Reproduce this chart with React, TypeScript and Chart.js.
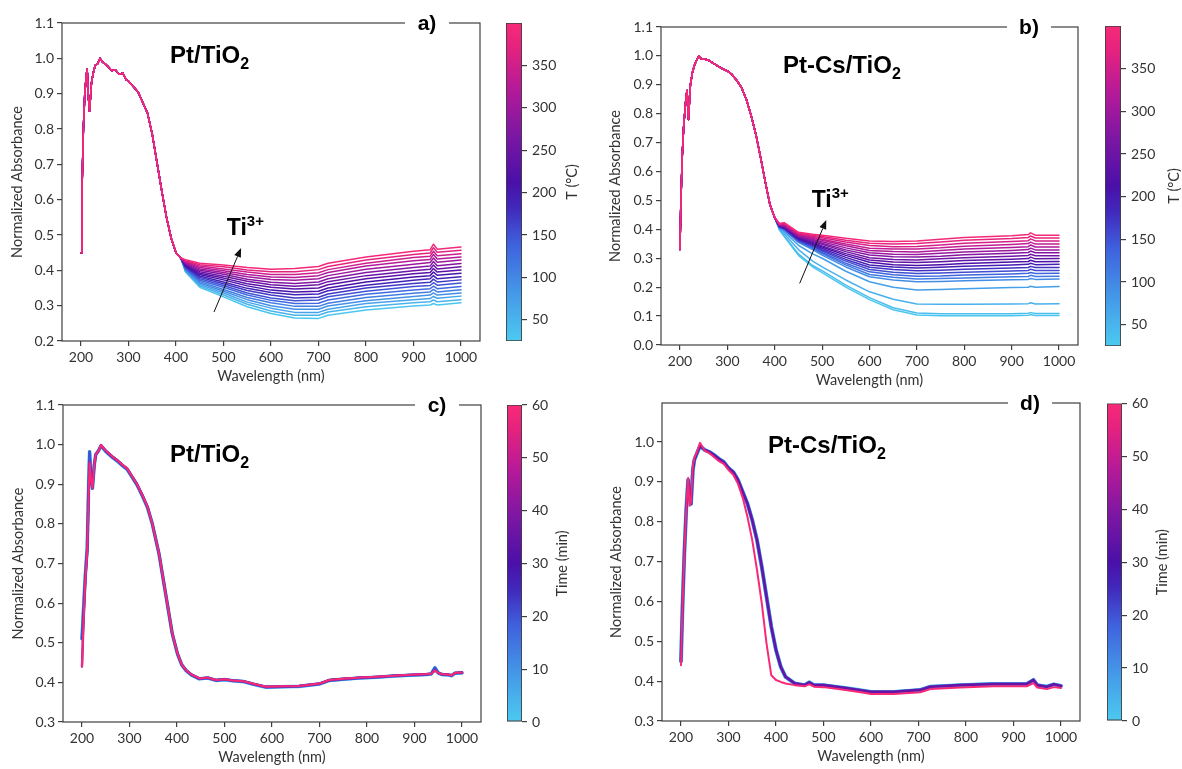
import React, { useEffect, useRef } from 'react';
import { Chart, registerables } from 'chart.js';

Chart.register(...registerables);

// ---------------- data ----------------
const wavelengthTicks = [200, 300, 400, 500, 600, 700, 800, 900, 1000];
const absTicksA = [0.2, 0.3, 0.4, 0.5, 0.6, 0.7, 0.8, 0.9, 1.0, 1.1];
const absTicksB = [0.0, 0.1, 0.2, 0.3, 0.4, 0.5, 0.6, 0.7, 0.8, 0.9, 1.0, 1.1];
const absTicksC = [0.3, 0.4, 0.5, 0.6, 0.7, 0.8, 0.9, 1.0, 1.1];
const absTicksD = [0.3, 0.4, 0.5, 0.6, 0.7, 0.8, 0.9, 1.0];
const tempTicks = [50, 100, 150, 200, 250, 300, 350];
const timeTicks = [0, 10, 20, 30, 40, 50, 60];

// Panel a) Pt/TiO2 vs temperature: shared UV edge + per-curve visible tail
const headWlA = [200, 202, 205, 208, 211, 213, 215, 218, 222, 226, 230, 235, 240, 245, 250, 258, 265, 272, 280, 288, 295, 300, 310, 320, 330, 340, 350, 360, 370, 380, 390, 400, 410];
const headAbsA = [0.45, 0.62, 0.80, 0.90, 0.95, 0.97, 0.90, 0.85, 0.93, 0.96, 0.98, 0.985, 1.0, 0.99, 0.985, 0.975, 0.965, 0.968, 0.955, 0.958, 0.94, 0.935, 0.92, 0.905, 0.875, 0.845, 0.785, 0.705, 0.625, 0.55, 0.49, 0.45, 0.435];
const tailWlA = [420, 450, 500, 550, 600, 650, 700, 720, 800, 900, 935, 942, 950, 1000];
const tempsA = [30, 50, 70, 90, 110, 130, 150, 170, 190, 210, 230, 250, 275, 300, 320, 345, 370, 395];
const tailsA = [
  [0.395, 0.352, 0.325, 0.297, 0.278, 0.265, 0.264, 0.273, 0.288, 0.299, 0.302, 0.306, 0.302, 0.308],
  [0.397, 0.356, 0.330, 0.304, 0.285, 0.273, 0.273, 0.282, 0.297, 0.308, 0.311, 0.316, 0.311, 0.317],
  [0.399, 0.360, 0.336, 0.310, 0.293, 0.281, 0.281, 0.290, 0.306, 0.317, 0.320, 0.326, 0.321, 0.327],
  [0.401, 0.364, 0.341, 0.317, 0.300, 0.290, 0.290, 0.299, 0.314, 0.326, 0.330, 0.336, 0.330, 0.336],
  [0.403, 0.368, 0.346, 0.323, 0.308, 0.298, 0.298, 0.307, 0.323, 0.335, 0.339, 0.346, 0.339, 0.345],
  [0.405, 0.372, 0.352, 0.330, 0.315, 0.306, 0.307, 0.316, 0.332, 0.344, 0.348, 0.355, 0.348, 0.354],
  [0.407, 0.376, 0.357, 0.336, 0.322, 0.314, 0.316, 0.325, 0.341, 0.354, 0.357, 0.365, 0.358, 0.364],
  [0.409, 0.380, 0.362, 0.343, 0.330, 0.322, 0.324, 0.333, 0.350, 0.363, 0.366, 0.375, 0.367, 0.373],
  [0.411, 0.384, 0.367, 0.349, 0.337, 0.331, 0.333, 0.342, 0.358, 0.372, 0.376, 0.385, 0.376, 0.382],
  [0.413, 0.388, 0.373, 0.356, 0.344, 0.339, 0.341, 0.350, 0.367, 0.381, 0.385, 0.395, 0.386, 0.392],
  [0.415, 0.392, 0.378, 0.362, 0.352, 0.347, 0.350, 0.359, 0.376, 0.390, 0.394, 0.405, 0.395, 0.401],
  [0.417, 0.396, 0.383, 0.369, 0.359, 0.355, 0.359, 0.368, 0.385, 0.399, 0.403, 0.415, 0.404, 0.410],
  [0.419, 0.400, 0.389, 0.375, 0.366, 0.363, 0.367, 0.376, 0.394, 0.408, 0.412, 0.425, 0.413, 0.419],
  [0.421, 0.404, 0.394, 0.382, 0.374, 0.372, 0.376, 0.385, 0.403, 0.417, 0.422, 0.435, 0.423, 0.429],
  [0.423, 0.408, 0.399, 0.388, 0.381, 0.380, 0.385, 0.394, 0.412, 0.427, 0.431, 0.445, 0.432, 0.438],
  [0.425, 0.412, 0.404, 0.395, 0.388, 0.388, 0.393, 0.402, 0.420, 0.436, 0.440, 0.454, 0.441, 0.447],
  [0.427, 0.416, 0.410, 0.401, 0.396, 0.396, 0.402, 0.411, 0.429, 0.445, 0.449, 0.464, 0.451, 0.457],
  [0.430, 0.420, 0.415, 0.408, 0.403, 0.405, 0.411, 0.420, 0.438, 0.454, 0.458, 0.474, 0.460, 0.466],
];

// Panel b) Pt-Cs/TiO2 vs temperature
const headWlB = [200, 202, 205, 208, 211, 213, 215, 218, 222, 226, 230, 235, 240, 245, 250, 260, 270, 280, 290, 300, 310, 320, 330, 340, 350, 360, 370, 380, 390, 400];
const headAbsB = [0.33, 0.50, 0.66, 0.76, 0.82, 0.86, 0.88, 0.78, 0.90, 0.94, 0.965, 0.985, 1.0, 0.99, 0.99, 0.985, 0.975, 0.965, 0.955, 0.948, 0.935, 0.915, 0.89, 0.85, 0.795, 0.73, 0.65, 0.565, 0.485, 0.44];
const tailWlB = [410, 420, 450, 480, 500, 550, 600, 650, 700, 750, 800, 900, 935, 940, 950, 1000];
const tempsB = [30, 40, 55, 75, 95, 115, 135, 155, 175, 195, 215, 235, 255, 275, 295, 315, 335, 355, 375, 395];
const tailsB = [
  [0.398, 0.375, 0.310, 0.270, 0.250, 0.200, 0.157, 0.122, 0.104, 0.101, 0.101, 0.101, 0.103, 0.105, 0.102, 0.102],
  [0.399, 0.378, 0.315, 0.275, 0.257, 0.207, 0.164, 0.129, 0.111, 0.108, 0.108, 0.108, 0.110, 0.112, 0.109, 0.109],
  [0.401, 0.385, 0.330, 0.290, 0.270, 0.225, 0.184, 0.158, 0.142, 0.141, 0.141, 0.142, 0.143, 0.146, 0.142, 0.143],
  [0.403, 0.392, 0.345, 0.315, 0.300, 0.255, 0.219, 0.200, 0.190, 0.192, 0.195, 0.199, 0.200, 0.203, 0.200, 0.202],
  [0.405, 0.397, 0.355, 0.330, 0.311, 0.270, 0.236, 0.225, 0.219, 0.220, 0.222, 0.226, 0.227, 0.230, 0.227, 0.228],
  [0.406, 0.399, 0.357, 0.334, 0.316, 0.277, 0.244, 0.234, 0.228, 0.230, 0.232, 0.236, 0.237, 0.241, 0.237, 0.238],
  [0.407, 0.400, 0.360, 0.337, 0.320, 0.283, 0.253, 0.243, 0.238, 0.239, 0.242, 0.246, 0.248, 0.251, 0.247, 0.248],
  [0.408, 0.402, 0.362, 0.341, 0.325, 0.290, 0.261, 0.252, 0.247, 0.249, 0.252, 0.256, 0.258, 0.262, 0.258, 0.258],
  [0.409, 0.403, 0.364, 0.344, 0.329, 0.296, 0.269, 0.261, 0.257, 0.259, 0.262, 0.266, 0.268, 0.272, 0.268, 0.268],
  [0.410, 0.405, 0.367, 0.348, 0.334, 0.303, 0.277, 0.270, 0.266, 0.269, 0.272, 0.277, 0.279, 0.283, 0.278, 0.279],
  [0.411, 0.406, 0.369, 0.351, 0.339, 0.310, 0.286, 0.278, 0.275, 0.278, 0.282, 0.287, 0.289, 0.293, 0.288, 0.289],
  [0.412, 0.408, 0.371, 0.355, 0.343, 0.316, 0.294, 0.287, 0.285, 0.288, 0.292, 0.297, 0.299, 0.304, 0.298, 0.299],
  [0.413, 0.410, 0.374, 0.358, 0.348, 0.323, 0.302, 0.296, 0.294, 0.298, 0.302, 0.307, 0.310, 0.314, 0.309, 0.309],
  [0.414, 0.411, 0.376, 0.362, 0.352, 0.329, 0.311, 0.305, 0.304, 0.307, 0.312, 0.317, 0.320, 0.325, 0.319, 0.319],
  [0.415, 0.413, 0.378, 0.365, 0.357, 0.336, 0.319, 0.314, 0.313, 0.317, 0.322, 0.327, 0.330, 0.335, 0.329, 0.329],
  [0.416, 0.415, 0.380, 0.369, 0.362, 0.343, 0.327, 0.323, 0.322, 0.327, 0.332, 0.337, 0.340, 0.346, 0.339, 0.339],
  [0.417, 0.417, 0.383, 0.372, 0.366, 0.349, 0.335, 0.332, 0.332, 0.336, 0.342, 0.348, 0.351, 0.356, 0.349, 0.349],
  [0.418, 0.419, 0.385, 0.376, 0.371, 0.356, 0.344, 0.340, 0.341, 0.346, 0.352, 0.358, 0.361, 0.367, 0.360, 0.360],
  [0.419, 0.421, 0.388, 0.379, 0.375, 0.362, 0.352, 0.349, 0.351, 0.356, 0.362, 0.368, 0.372, 0.377, 0.370, 0.370],
  [0.420, 0.423, 0.390, 0.383, 0.380, 0.369, 0.360, 0.358, 0.360, 0.366, 0.372, 0.378, 0.382, 0.388, 0.380, 0.380],
];

// Panel c) Pt/TiO2 vs time
const wlC = [200, 203, 207, 211, 214, 216, 219, 222, 226, 229, 235, 240, 250, 264, 275, 285, 295, 306, 316, 327, 338, 348, 362, 376, 390, 401, 410, 419, 430, 447, 465, 482, 500, 517, 540, 559, 587, 620, 657, 700, 721, 750, 785, 820, 856, 890, 926, 935, 943, 950, 957, 970, 978, 985, 1000];
const absCStart = [0.51, 0.58, 0.67, 0.74, 0.90, 0.982, 0.92, 0.89, 0.95, 0.975, 0.985, 0.997, 0.983, 0.968, 0.958, 0.947, 0.938, 0.917, 0.898, 0.871, 0.841, 0.80, 0.725, 0.624, 0.523, 0.472, 0.444, 0.430, 0.419, 0.409, 0.411, 0.405, 0.407, 0.404, 0.402, 0.396, 0.388, 0.389, 0.390, 0.396, 0.405, 0.408, 0.411, 0.413, 0.416, 0.418, 0.420, 0.421, 0.437, 0.424, 0.420, 0.419, 0.417, 0.423, 0.424];
const absCEnd = [0.44, 0.55, 0.66, 0.73, 0.88, 0.955, 0.91, 0.89, 0.95, 0.975, 0.985, 0.999, 0.985, 0.97, 0.96, 0.949, 0.94, 0.919, 0.90, 0.873, 0.843, 0.801, 0.726, 0.625, 0.524, 0.473, 0.445, 0.431, 0.42, 0.41, 0.412, 0.406, 0.408, 0.405, 0.403, 0.397, 0.389, 0.39, 0.391, 0.397, 0.406, 0.409, 0.412, 0.414, 0.417, 0.419, 0.421, 0.422, 0.430, 0.424, 0.421, 0.420, 0.418, 0.424, 0.425];
const timesC = [0, 20, 40, 60];

// Panel d) Pt-Cs/TiO2 vs time
const wlD = [200, 203, 207, 211, 215, 218, 221, 225, 228, 235, 240, 250, 260, 270, 280, 290, 300, 310, 320, 330, 340, 350, 360, 370, 380, 390, 400, 410, 420, 440, 460, 470, 480, 500, 550, 578, 600, 648, 704, 725, 788, 858, 928, 942, 950, 970, 985, 1000];
const absDMain = [0.45, 0.58, 0.72, 0.83, 0.905, 0.86, 0.845, 0.93, 0.955, 0.976, 0.99, 0.98, 0.975, 0.967, 0.958, 0.95, 0.935, 0.925, 0.905, 0.875, 0.845, 0.804, 0.754, 0.687, 0.612, 0.537, 0.478, 0.436, 0.411, 0.394, 0.39, 0.397, 0.39, 0.39, 0.382, 0.377, 0.373, 0.373, 0.378, 0.386, 0.39, 0.393, 0.393, 0.403, 0.39, 0.386, 0.392, 0.388];
const absDLast = [0.44, 0.58, 0.72, 0.83, 0.91, 0.84, 0.85, 0.94, 0.96, 0.98, 0.998, 0.978, 0.972, 0.962, 0.952, 0.945, 0.93, 0.918, 0.895, 0.86, 0.812, 0.754, 0.679, 0.596, 0.495, 0.415, 0.403, 0.398, 0.394, 0.39, 0.387, 0.392, 0.386, 0.385, 0.377, 0.372, 0.368, 0.368, 0.372, 0.38, 0.384, 0.387, 0.387, 0.395, 0.384, 0.38, 0.385, 0.383];
const timesD = [0, 15, 35, 60];

// ---------------- styling ----------------
const AXIS = '#404040';
const TXT = '#333333';
const TICK_FONT = { family: 'Lato', size: 14 };
const TITLE_SIZE = 14.5;
const TITLE_FONT = { family: 'Lato', size: TITLE_SIZE };
const BOLD = '"Liberation Sans", Arial, sans-serif';

const cmapStops: [number, string][] = [
  [0.0, '#4ccaf0'],
  [0.15, '#4499e8'],
  [0.3, '#3f63de'],
  [0.42, '#4128bc'],
  [0.5, '#4a10a8'],
  [0.64, '#7a16a4'],
  [0.8, '#b81a98'],
  [0.92, '#e4227f'],
  [1.0, '#f82a78'],
];

function hexRgb(h: string) {
  return [parseInt(h.slice(1, 3), 16), parseInt(h.slice(3, 5), 16), parseInt(h.slice(5, 7), 16)];
}
function cmap(f: number) {
  const t = Math.max(0, Math.min(1, f));
  for (let i = 1; i < cmapStops.length; i++) {
    const [p1, c1] = cmapStops[i];
    const [p0, c0] = cmapStops[i - 1];
    if (t <= p1) {
      const k = (t - p0) / (p1 - p0);
      const a = hexRgb(c0), b = hexRgb(c1);
      return `rgb(${Math.round(a[0] + (b[0] - a[0]) * k)},${Math.round(a[1] + (b[1] - a[1]) * k)},${Math.round(a[2] + (b[2] - a[2]) * k)})`;
    }
  }
  return cmapStops[cmapStops.length - 1][1];
}

function series(wl: number[], ab: number[]) {
  return wl.map((x, i) => ({ x, y: ab[i] }));
}
function joined(hw: number[], ha: number[], tw: number[], ta: number[]) {
  return series(hw, ha).concat(series(tw, ta));
}

const gridOpts = { display: true, drawOnChartArea: false, drawTicks: true, tickLength: 5, color: AXIS, lineWidth: 1.2 };
const tickOpts = { font: TICK_FONT, color: TXT, padding: 3, autoSkip: false, maxRotation: 0, minRotation: 0 };

type Part = { t: string; size: number; dy?: number };
function drawRich(ctx: CanvasRenderingContext2D, parts: Part[], x: number, y: number) {
  let cx = x;
  for (const p of parts) {
    ctx.font = `bold ${p.size}px ${BOLD}`;
    ctx.fillText(p.t, cx, y + (p.dy || 0));
    cx += ctx.measureText(p.t).width;
  }
}
const TITLE_PT: Part[] = [{ t: 'Pt/TiO', size: 24 }, { t: '2', size: 16, dy: 6 }];
const TITLE_PTCS: Part[] = [{ t: 'Pt-Cs/TiO', size: 24 }, { t: '2', size: 16, dy: 6 }];
const TI_PARTS: Part[] = [{ t: 'Ti', size: 23 }, { t: '3+', size: 15, dy: -9 }];

const framePlugin = {
  id: 'frame',
  afterDraw(chart: any) {
    const { ctx, chartArea: a } = chart;
    ctx.save();
    ctx.strokeStyle = AXIS;
    ctx.lineWidth = 1.2;
    ctx.strokeRect(a.left, a.top, a.right - a.left, a.bottom - a.top);
    ctx.restore();
  },
};

function annotPlugin(an: any) {
  return {
    id: 'annot',
    afterDraw(chart: any) {
      const { ctx, chartArea: ca, scales } = chart;
      ctx.save();
      ctx.fillStyle = '#000';
      ctx.textAlign = 'left';
      ctx.textBaseline = 'alphabetic';
      drawRich(ctx, an.title, ca.left + an.titleDx, ca.top + an.titleDy);
      if (an.ti) {
        drawRich(ctx, TI_PARTS, scales.x.getPixelForValue(an.ti[0]), scales.y.getPixelForValue(an.ti[1]));
      }
      if (an.arrow) {
        const x0 = scales.x.getPixelForValue(an.arrow[0]);
        const y0 = scales.y.getPixelForValue(an.arrow[1]);
        const x1 = scales.x.getPixelForValue(an.arrow[2]);
        const y1 = scales.y.getPixelForValue(an.arrow[3]);
        const ang = Math.atan2(y1 - y0, x1 - x0);
        const c = Math.cos(ang), s = Math.sin(ang);
        const hl = 9, hw = 3.6;
        ctx.strokeStyle = '#111';
        ctx.lineWidth = 1;
        ctx.beginPath();
        ctx.moveTo(x0, y0);
        ctx.lineTo(x1 - hl * c, y1 - hl * s);
        ctx.stroke();
        ctx.fillStyle = '#111';
        ctx.beginPath();
        ctx.moveTo(x1, y1);
        ctx.lineTo(x1 - hl * c + hw * s, y1 - hl * s - hw * c);
        ctx.lineTo(x1 - hl * c - hw * s, y1 - hl * s + hw * c);
        ctx.closePath();
        ctx.fill();
      }
      const lx = ca.right - an.labelDx;
      const ly = ca.top;
      ctx.fillStyle = '#fff';
      ctx.fillRect(lx - 22, ly - 12, 44, 24);
      ctx.fillStyle = '#000';
      ctx.font = `bold 21px ${BOLD}`;
      ctx.textAlign = 'center';
      ctx.textBaseline = 'middle';
      ctx.fillText(an.label, lx, ly + 1);
      ctx.restore();
    },
  };
}

function panelConfig(s: any) {
  const lh = TITLE_SIZE * 1.2;
  return {
    type: 'line',
    data: { datasets: s.datasets },
    options: {
      animation: false,
      responsive: false,
      devicePixelRatio: 1,
      events: [],
      layout: { padding: { top: s.padTop, right: s.padRight, left: 0, bottom: 0 } },
      plugins: { legend: { display: false }, tooltip: { enabled: false } },
      elements: {
        point: { radius: 0 },
        line: { tension: 0, borderJoinStyle: 'round', borderCapStyle: 'round', fill: false },
      },
      scales: {
        x: {
          type: 'linear',
          min: 160,
          max: 1040,
          afterFit: (sc: any) => { sc.height = s.xH; },
          afterBuildTicks: (sc: any) => { sc.ticks = wavelengthTicks.map((v) => ({ value: v })); },
          grid: gridOpts,
          border: { display: false },
          ticks: { ...tickOpts, callback: (v: any) => String(v) },
          title: {
            display: true,
            text: 'Wavelength (nm)',
            font: TITLE_FONT,
            color: TXT,
            padding: { top: 0, bottom: s.xH - lh / 2 - 35.5 },
          },
        },
        y: {
          type: 'linear',
          min: s.yMin,
          max: s.yMax,
          afterFit: (sc: any) => { sc.width = s.yW; },
          afterBuildTicks: (sc: any) => { sc.ticks = s.yTicks.map((v: number) => ({ value: v })); },
          grid: gridOpts,
          border: { display: false },
          ticks: { ...tickOpts, callback: (v: any) => Number(v).toFixed(1) },
          title: {
            display: true,
            text: 'Normalized Absorbance',
            font: TITLE_FONT,
            color: TXT,
            padding: { top: s.yTitleX - lh / 2, bottom: 0 },
          },
        },
      },
    },
    plugins: [framePlugin, annotPlugin(s.annot)],
  };
}

function gradient(chart: any) {
  const ca = chart.chartArea;
  if (!ca) return '#888';
  const g = chart.ctx.createLinearGradient(0, ca.bottom, 0, ca.top);
  cmapStops.forEach(([p, c]) => g.addColorStop(p, c));
  return g;
}

function cbarTitlePlugin(text: string, dx: number) {
  return {
    id: 'cbtitle',
    afterDraw(chart: any) {
      const { ctx, chartArea: ca } = chart;
      ctx.save();
      ctx.translate(ca.right + dx, (ca.top + ca.bottom) / 2);
      ctx.rotate(-Math.PI / 2);
      ctx.font = `${TITLE_SIZE}px Lato`;
      ctx.fillStyle = TXT;
      ctx.textAlign = 'center';
      ctx.textBaseline = 'middle';
      ctx.fillText(text, 0, 0);
      ctx.restore();
    },
  };
}

function cbarConfig(s: any) {
  return {
    type: 'bar',
    data: {
      labels: ['cb'],
      datasets: [{
        data: [[s.min, s.max]],
        backgroundColor: (c: any) => gradient(c.chart),
        borderColor: AXIS,
        borderWidth: 1.2,
        borderSkipped: false,
        barPercentage: 1,
        categoryPercentage: 1,
      }],
    },
    options: {
      animation: false,
      responsive: false,
      devicePixelRatio: 1,
      events: [],
      layout: { padding: { top: s.padTop, bottom: s.padBottom, left: 0, right: 0 } },
      plugins: { legend: { display: false }, tooltip: { enabled: false } },
      scales: {
        x: { display: false },
        y: {
          position: 'right',
          min: s.min,
          max: s.max,
          afterFit: (sc: any) => { sc.width = s.w - s.barW; },
          afterBuildTicks: (sc: any) => { sc.ticks = s.ticks.map((v: number) => ({ value: v })); },
          grid: gridOpts,
          border: { display: false },
          ticks: { ...tickOpts, padding: 5, callback: (v: any) => String(v) },
        },
      },
    },
    plugins: [cbarTitlePlugin(s.title, s.titleDx)],
  };
}

// ---------------- build datasets ----------------
function datasetsA() {
  return tailsA.map((tail, i) => ({
    data: joined(headWlA, headAbsA, tailWlA, tail),
    borderColor: cmap((tempsA[i] - 25) / 375),
    borderWidth: 1.5,
  })).reverse();
}
function datasetsB() {
  return tailsB.map((tail, i) => ({
    data: joined(headWlB, headAbsB, tailWlB, tail),
    borderColor: cmap((tempsB[i] - 25) / 375),
    borderWidth: 1.5,
  })).reverse();
}
function datasetsC() {
  const src = [absCStart, absCStart, absCEnd, absCEnd];
  const widths = [3.6, 3, 2.4, 2];
  return timesC.map((t, i) => ({
    data: series(wlC, src[i]),
    borderColor: cmap(t / 60),
    borderWidth: widths[i],
  })).reverse();
}
function datasetsD() {
  const src = [absDMain, absDMain, absDMain, absDLast];
  const widths = [4, 3.4, 2.6, 2];
  return timesD.map((t, i) => ({
    data: series(wlD, src[i]),
    borderColor: cmap(t / 60),
    borderWidth: widths[i],
  })).reverse();
}

// ---------------- layout ----------------
const panels = [
  { left: 0, top: 0, w: 495, h: 389, yW: 62, padTop: 23, padRight: 15, xH: 48, yMin: 0.2, yMax: 1.1, yTicks: absTicksA, yTitleX: 17.5, make: datasetsA,
    annot: { title: TITLE_PT, titleDx: 108, titleDy: 40, ti: [507, 0.5], arrow: [480, 0.282, 537, 0.463], label: 'a)', labelDx: 53 } },
  { left: 595, top: 0, w: 495, h: 393, yW: 66, padTop: 27, padRight: 12, xH: 48, yMin: 0.0, yMax: 1.1, yTicks: absTicksB, yTitleX: 20, make: datasetsB,
    annot: { title: TITLE_PTCS, titleDx: 122, titleDy: 46, ti: [478, 0.478], arrow: [452.6, 0.213, 508.8, 0.432], label: 'b)', labelDx: 49 } },
  { left: 0, top: 390, w: 495, h: 379, yW: 63, padTop: 15, padRight: 14, xH: 47, yMin: 0.3, yMax: 1.1, yTicks: absTicksC, yTitleX: 18.5, make: datasetsC,
    annot: { title: TITLE_PT, titleDx: 107, titleDy: 57, label: 'c)', labelDx: 44 } },
  { left: 595, top: 390, w: 495, h: 379, yW: 67, padTop: 13, padRight: 10, xH: 48, yMin: 0.3, yMax: 1.098, yTicks: absTicksD, yTitleX: 21, make: datasetsD,
    annot: { title: TITLE_PTCS, titleDx: 106, titleDy: 50, label: 'd)', labelDx: 50 } },
];

const cbars = [
  { left: 506, top: 0, w: 76, h: 389, barW: 16, padTop: 23, padBottom: 48, min: 25, max: 400, ticks: tempTicks, title: 'T (°C)', titleDx: 50 },
  { left: 1105, top: 0, w: 77, h: 393, barW: 16, padTop: 26, padBottom: 47, min: 25, max: 400, ticks: tempTicks, title: 'T (°C)', titleDx: 53 },
  { left: 507, top: 390, w: 70, h: 379, barW: 15, padTop: 15, padBottom: 47, min: 0, max: 60, ticks: timeTicks, title: 'Time (min)', titleDx: 40 },
  { left: 1107, top: 390, w: 75, h: 379, barW: 15, padTop: 13, padBottom: 48, min: 0, max: 60, ticks: timeTicks, title: 'Time (min)', titleDx: 40 },
];

export default function App() {
  const panelRefs = [useRef<HTMLCanvasElement>(null), useRef<HTMLCanvasElement>(null), useRef<HTMLCanvasElement>(null), useRef<HTMLCanvasElement>(null)];
  const cbarRefs = [useRef<HTMLCanvasElement>(null), useRef<HTMLCanvasElement>(null), useRef<HTMLCanvasElement>(null), useRef<HTMLCanvasElement>(null)];

  useEffect(() => {
    const charts: Chart[] = [];
    panels.forEach((p, i) => {
      const el = panelRefs[i].current;
      if (!el) return;
      charts.push(new Chart(el, panelConfig({ ...p, datasets: p.make() }) as any));
    });
    cbars.forEach((c, i) => {
      const el = cbarRefs[i].current;
      if (!el) return;
      charts.push(new Chart(el, cbarConfig(c) as any));
    });
    return () => charts.forEach((c) => c.destroy());
  }, []);

  return (
    <div style={{ position: 'absolute', left: 0, top: 0, width: 1182, height: 769, background: '#fff', overflow: 'hidden' }}>
      {panels.map((p, i) => (
        <canvas key={'p' + i} ref={panelRefs[i]} width={p.w} height={p.h}
          style={{ position: 'absolute', left: p.left, top: p.top, width: p.w, height: p.h }} />
      ))}
      {cbars.map((c, i) => (
        <canvas key={'c' + i} ref={cbarRefs[i]} width={c.w} height={c.h}
          style={{ position: 'absolute', left: c.left, top: c.top, width: c.w, height: c.h }} />
      ))}
    </div>
  );
}
